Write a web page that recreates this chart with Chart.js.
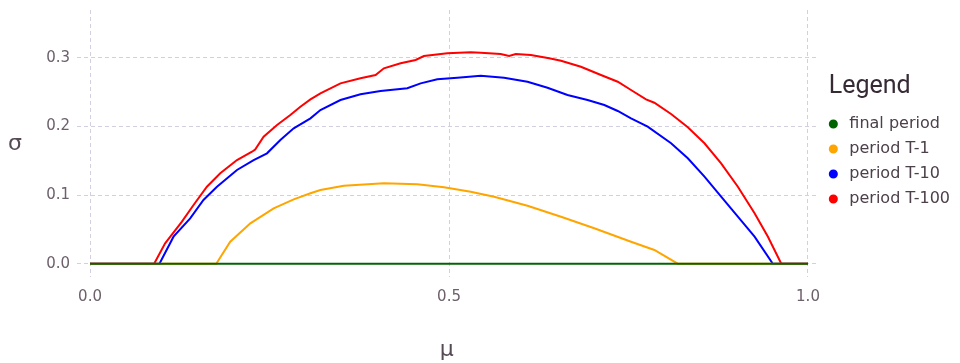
<!DOCTYPE html>
<html>
<head>
<meta charset="utf-8">
<script src="https://cdn.jsdelivr.net/npm/chart.js@4/dist/chart.umd.min.js"></script>
<style>
  html, body { margin: 0; padding: 0; background: #ffffff; }
  #wrap { width: 960px; height: 363px; }
</style>
</head>
<body>
<div id="wrap"><canvas id="sigma-chart" width="960" height="363"></canvas></div>
<script>
// series names (legend order)
var seriesNames = ["final period", "period T-1", "period T-10", "period T-100"];
var seriesColors = ["#006400", "#ffa500", "#0000ff", "#ff0000"];

// tick positions
var xTicks = [0, 0.5, 1.0];
var yTicks = [0, 0.1, 0.2, 0.3];

// final period
var muFinal = [0, 1.0];
var sigmaFinal = [0, 0];

// period T-1
var muT1 = [0, 0.1758, 0.1953, 0.2233, 0.2558, 0.2837, 0.3070, 0.3209, 0.3535, 0.4093, 0.4558, 0.4930,
  0.5302, 0.5628, 0.6093, 0.6560, 0.7023, 0.7535, 0.7860, 0.8186, 1.0];
var sigmaT1 = [0, 0, 0.0320, 0.0589, 0.0808, 0.0939, 0.1027, 0.1075, 0.1138, 0.1172, 0.1158, 0.1114,
  0.1050, 0.0977, 0.0846, 0.0685, 0.0516, 0.0320, 0.0200, 0, 0];

// period T-10
var muT10 = [0, 0.0967, 0.1163, 0.1395, 0.1580, 0.1768, 0.2047, 0.2279, 0.2465, 0.2651, 0.2837, 0.3070,
  0.3209, 0.3488, 0.3767, 0.4046, 0.4419, 0.4605, 0.4837, 0.5116, 0.5442, 0.5767, 0.6093, 0.6372,
  0.6650, 0.6930, 0.7163, 0.7350, 0.7535, 0.7767, 0.8093, 0.8326, 0.8558, 0.8790, 0.9023, 0.9256,
  0.9510, 1.0];
var sigmaT10 = [0, 0, 0.0394, 0.0662, 0.0929, 0.1123, 0.1367, 0.1512, 0.1610, 0.1804, 0.1975, 0.2120,
  0.2241, 0.2387, 0.2470, 0.2519, 0.2558, 0.2630, 0.2689, 0.2713, 0.2742, 0.2713, 0.2654, 0.2567,
  0.2460, 0.2387, 0.2314, 0.2227, 0.2120, 0.2000, 0.1756, 0.1537, 0.1269, 0.0977, 0.0685, 0.0394,
  0, 0];

// period T-100
var muT100 = [0, 0.0893, 0.1046, 0.1280, 0.1442, 0.1628, 0.1814, 0.2047, 0.2256, 0.2300, 0.2418, 0.2605,
  0.2790, 0.2930, 0.3070, 0.3209, 0.3488, 0.3767, 0.3977, 0.4093, 0.4326, 0.4535, 0.4650, 0.4977,
  0.5302, 0.5442, 0.5720, 0.5837, 0.5930, 0.6140, 0.6395, 0.6560, 0.6837, 0.7116, 0.7350, 0.7535,
  0.7744, 0.7860, 0.8093, 0.8326, 0.8558, 0.8790, 0.9023, 0.9256, 0.9442, 0.9628, 1.0];
var sigmaT100 = [0, 0, 0.0297, 0.0613, 0.0856, 0.1123, 0.1318, 0.1512, 0.1633, 0.1665, 0.1852, 0.2023,
  0.2169, 0.2290, 0.2397, 0.2485, 0.2630, 0.2704, 0.2752, 0.2850, 0.2923, 0.2971, 0.3029, 0.3068,
  0.3083, 0.3077, 0.3058, 0.3029, 0.3058, 0.3044, 0.2995, 0.2960, 0.2873, 0.2752, 0.2654, 0.2533,
  0.2397, 0.2348, 0.2183, 0.1989, 0.1756, 0.1464, 0.1123, 0.0735, 0.0394, 0, 0];

/*******************************
* Pairs x and y values into points
*******************************/
function toPoints(xs, ys) {
  return xs.map(function (x, i) { return {x: x, y: ys[i]}; });
}

var allSeries = [
  toPoints(muFinal, sigmaFinal),
  toPoints(muT1, sigmaT1),
  toPoints(muT10, sigmaT10),
  toPoints(muT100, sigmaT100)
];

var datasets = allSeries.map(function (pts, i) {
  return {
    label: seriesNames[i],
    data: pts,
    borderColor: seriesColors[i],
    backgroundColor: seriesColors[i],
    borderWidth: 2,
    pointRadius: 0,
    tension: 0,
    fill: false
  };
});

// upright y axis title (chart.js would rotate it)
var yTitlePlugin = {
  id: "yTitle",
  afterDraw: function (chart) {
    var ctx = chart.ctx;
    var area = chart.chartArea;
    ctx.save();
    ctx.font = "22px 'DejaVu Sans'";
    ctx.fillStyle = "#564a55";
    ctx.textAlign = "center";
    ctx.textBaseline = "middle";
    ctx.fillText("σ", 15, (area.top + area.bottom) / 2 + 1);
    ctx.restore();
  }
};

var gridGray = "#d0d0e0";

new Chart("sigma-chart", {
  type: "line",
  data: { datasets: datasets },
  options: {
    responsive: false,
    animation: false,
    layout: { padding: { top: 10, left: 0, right: 0, bottom: 0 } },
    plugins: {
      legend: {
        position: "right",
        align: "start",
        title: {
          display: true,
          text: "  Legend",
          position: "start",
          color: "#362a35",
          font: { family: "Roboto", size: 25 },
          padding: { top: 64, bottom: 3 }
        },
        labels: {
          usePointStyle: true,
          pointStyle: "circle",
          boxHeight: 5,
          padding: 9,
          color: "#4c404b",
          font: { family: "DejaVu Sans", size: 16 }
        }
      },
      tooltip: { enabled: false }
    },
    scales: {
      x: {
        type: "linear",
        min: -0.01814,
        max: 1.0116,
        afterBuildTicks: function (scale) {
          scale.ticks = xTicks.map(function (v) { return {value: v}; });
        },
        afterFit: function (scale) { scale.height = 86; },
        ticks: {
          padding: 11,
          color: "#6c606b",
          font: { family: "DejaVu Sans", size: 15 },
          callback: function (v) { return v.toFixed(1); }
        },
        grid: { color: gridGray, drawTicks: false, lineWidth: 1 },
        border: { display: false, dash: [4, 3] },
        title: {
          display: true,
          text: "μ",
          color: "#564a55",
          font: { family: "DejaVu Sans", size: 22 },
          padding: 0
        }
      },
      y: {
        type: "linear",
        min: -0.0194,
        max: 0.370,
        afterBuildTicks: function (scale) {
          scale.ticks = yTicks.map(function (v) { return {value: v}; });
        },
        afterFit: function (scale) {
          scale.width = 77;
          scale.paddingTop = 0;
          scale.paddingBottom = 0;
        },
        ticks: {
          padding: 7,
          color: "#6c606b",
          font: { family: "DejaVu Sans", size: 15 },
          callback: function (v) { return v.toFixed(1); }
        },
        grid: { color: gridGray, drawTicks: false, lineWidth: 1 },
        border: { display: false, dash: [4, 3] }
      }
    }
  },
  plugins: [yTitlePlugin]
});
</script>
</body>
</html>
